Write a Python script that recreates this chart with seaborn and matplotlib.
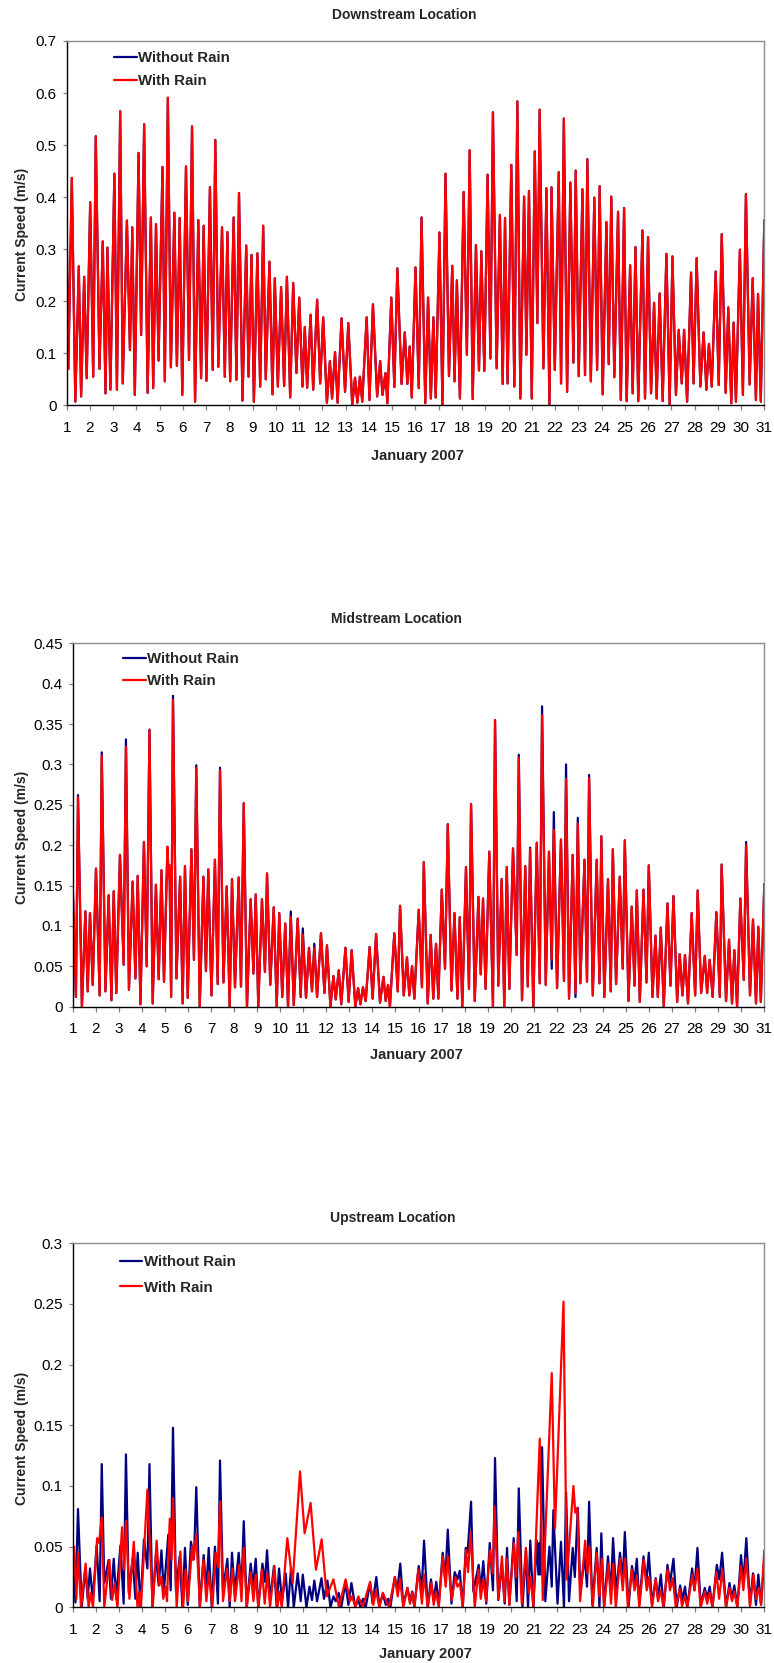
import numpy as np
import pandas as pd
import matplotlib
matplotlib.use("Agg")
import matplotlib.pyplot as plt
import seaborn as sns

# ---------------------------------------------------------------------------
# Modelled tidal current speed (m/s), January 2007.
# Each series is given by its successive turning points (day of month, speed).
# ---------------------------------------------------------------------------

# Downstream station: the two runs coincide here
down_days = [
    1.00, 1.07, 1.22, 1.37, 1.52, 1.62, 1.75, 1.86, 2.01, 2.14,
    2.25, 2.41, 2.55, 2.67, 2.75, 2.88, 3.05, 3.16, 3.30, 3.41,
    3.59, 3.72, 3.82, 3.93, 4.09, 4.20, 4.33, 4.48, 4.62, 4.72,
    4.84, 4.95, 5.12, 5.22, 5.35, 5.48, 5.63, 5.74, 5.86, 5.97,
    6.13, 6.26, 6.39, 6.52, 6.66, 6.78, 6.89, 7.01, 7.16, 7.28,
    7.39, 7.52, 7.68, 7.80, 7.91, 8.03, 8.18, 8.30, 8.41, 8.56,
    8.72, 8.82, 8.95, 9.05, 9.20, 9.32, 9.45, 9.56, 9.72, 9.85,
    9.95, 10.08, 10.22, 10.35, 10.47, 10.61, 10.74, 10.88, 11.00, 11.14,
    11.24, 11.34, 11.49, 11.60, 11.77, 11.90, 12.03, 12.19, 12.32, 12.41,
    12.54, 12.65, 12.82, 12.97, 13.11, 13.28, 13.40, 13.50, 13.61, 13.71,
    13.90, 14.02, 14.17, 14.35, 14.48, 14.58, 14.71, 14.79, 14.96, 15.09,
    15.22, 15.40, 15.54, 15.65, 15.75, 15.84, 16.00, 16.14, 16.26, 16.42,
    16.54, 16.66, 16.77, 16.87, 17.03, 17.16, 17.29, 17.44, 17.58, 17.68,
    17.78, 17.91, 18.07, 18.21, 18.33, 18.46, 18.60, 18.73, 18.83, 18.96,
    19.10, 19.22, 19.33, 19.49, 19.63, 19.75, 19.85, 19.96, 20.12, 20.25,
    20.38, 20.51, 20.67, 20.77, 20.88, 21.00, 21.13, 21.24, 21.34, 21.50,
    21.63, 21.76, 21.85, 21.99, 22.16, 22.26, 22.38, 22.52, 22.66, 22.79,
    22.89, 23.02, 23.18, 23.29, 23.39, 23.54, 23.69, 23.81, 23.92, 24.05,
    24.21, 24.31, 24.42, 24.55, 24.71, 24.83, 24.97, 25.08, 25.23, 25.34,
    25.46, 25.58, 25.76, 25.87, 26.00, 26.13, 26.26, 26.37, 26.50, 26.63,
    26.79, 26.93, 27.05, 27.20, 27.32, 27.45, 27.55, 27.68, 27.85, 27.96,
    28.09, 28.25, 28.39, 28.51, 28.62, 28.74, 28.91, 29.04, 29.17, 29.34,
    29.45, 29.58, 29.68, 29.78, 29.95, 30.08, 30.21, 30.37, 30.50, 30.64,
    30.73, 30.85, 31.00,
]
down_without = [
    0.34, 0.07, 0.437, 0.007, 0.267, 0.017, 0.247, 0.052, 0.39, 0.055,
    0.517, 0.07, 0.315, 0.023, 0.303, 0.03, 0.445, 0.03, 0.565, 0.042,
    0.355, 0.106, 0.342, 0.02, 0.485, 0.135, 0.54, 0.024, 0.361, 0.033,
    0.348, 0.086, 0.458, 0.046, 0.591, 0.073, 0.37, 0.076, 0.36, 0.02,
    0.459, 0.087, 0.536, 0.007, 0.356, 0.052, 0.345, 0.047, 0.419, 0.068,
    0.51, 0.074, 0.342, 0.055, 0.333, 0.046, 0.361, 0.049, 0.408, 0.009,
    0.307, 0.055, 0.289, 0.007, 0.292, 0.036, 0.345, 0.05, 0.276, 0.021,
    0.244, 0.036, 0.227, 0.037, 0.247, 0.015, 0.235, 0.062, 0.207, 0.036,
    0.15, 0.034, 0.174, 0.03, 0.203, 0.042, 0.169, 0.005, 0.085, 0.013,
    0.102, 0.005, 0.167, 0.026, 0.158, 0.001, 0.053, 0.005, 0.055, 0.007,
    0.169, 0.01, 0.194, 0.017, 0.085, 0.02, 0.062, 0.004, 0.207, 0.035,
    0.263, 0.041, 0.14, 0.041, 0.113, 0.015, 0.265, 0.033, 0.361, 0.004,
    0.207, 0.013, 0.169, 0.015, 0.332, 0.001, 0.445, 0.056, 0.268, 0.046,
    0.24, 0.013, 0.41, 0.097, 0.49, 0.012, 0.308, 0.067, 0.296, 0.066,
    0.443, 0.09, 0.563, 0.071, 0.366, 0.041, 0.36, 0.042, 0.462, 0.036,
    0.584, 0.013, 0.401, 0.097, 0.412, 0.013, 0.488, 0.158, 0.568, 0.071,
    0.417, 0.001, 0.419, 0.068, 0.448, 0.042, 0.551, 0.026, 0.428, 0.082,
    0.451, 0.056, 0.415, 0.058, 0.473, 0.046, 0.399, 0.068, 0.421, 0.021,
    0.352, 0.079, 0.401, 0.054, 0.372, 0.01, 0.379, 0.008, 0.269, 0.023,
    0.304, 0.008, 0.336, 0.013, 0.323, 0.023, 0.197, 0.013, 0.215, 0.008,
    0.291, 0.002, 0.286, 0.02, 0.145, 0.042, 0.145, 0.007, 0.255, 0.042,
    0.283, 0.036, 0.14, 0.03, 0.118, 0.036, 0.257, 0.039, 0.329, 0.024,
    0.188, 0.004, 0.159, 0.007, 0.299, 0.02, 0.406, 0.04, 0.244, 0.01,
    0.214, 0.007, 0.356,
]
down_with = list(down_without)

# Midstream station
mid_days = [
    1.00, 1.14, 1.23, 1.40, 1.55, 1.65, 1.75, 1.87, 2.01, 2.17,
    2.26, 2.42, 2.56, 2.68, 2.78, 2.89, 3.05, 3.21, 3.31, 3.44,
    3.60, 3.72, 3.82, 3.94, 4.09, 4.21, 4.33, 4.47, 4.61, 4.73,
    4.85, 4.96, 5.11, 5.16, 5.20, 5.27, 5.35, 5.50, 5.66, 5.77,
    5.87, 5.99, 6.15, 6.26, 6.36, 6.51, 6.67, 6.78, 6.88, 7.02,
    7.17, 7.29, 7.39, 7.54, 7.68, 7.81, 7.91, 8.04, 8.20, 8.30,
    8.42, 8.56, 8.72, 8.84, 8.94, 9.05, 9.21, 9.34, 9.43, 9.57,
    9.72, 9.85, 9.96, 10.09, 10.22, 10.34, 10.46, 10.59, 10.76, 10.89,
    10.98, 11.12, 11.25, 11.38, 11.48, 11.60, 11.77, 11.92, 12.03, 12.18,
    12.31, 12.41, 12.54, 12.65, 12.83, 12.97, 13.10, 13.26, 13.38, 13.48,
    13.59, 13.71, 13.88, 14.01, 14.16, 14.33, 14.48, 14.58, 14.68, 14.76,
    14.95, 15.10, 15.20, 15.36, 15.50, 15.60, 15.72, 15.82, 16.01, 16.15,
    16.23, 16.40, 16.53, 16.64, 16.76, 16.86, 17.01, 17.15, 17.27, 17.43,
    17.56, 17.69, 17.79, 17.90, 18.06, 18.19, 18.28, 18.44, 18.60, 18.70,
    18.80, 18.91, 19.07, 19.23, 19.32, 19.46, 19.61, 19.72, 19.83, 19.94,
    20.10, 20.26, 20.35, 20.49, 20.63, 20.74, 20.84, 20.98, 21.13, 21.26,
    21.36, 21.52, 21.66, 21.78, 21.87, 22.01, 22.18, 22.31, 22.40, 22.53,
    22.69, 22.81, 22.91, 23.02, 23.20, 23.31, 23.40, 23.56, 23.73, 23.85,
    23.93, 24.06, 24.22, 24.34, 24.43, 24.57, 24.73, 24.86, 24.95, 25.11,
    25.25, 25.37, 25.47, 25.60, 25.76, 25.89, 25.99, 26.15, 26.28, 26.38,
    26.51, 26.64, 26.80, 26.93, 27.06, 27.22, 27.33, 27.45, 27.56, 27.69,
    27.85, 28.00, 28.11, 28.26, 28.42, 28.52, 28.63, 28.76, 28.92, 29.07,
    29.15, 29.34, 29.47, 29.60, 29.70, 29.82, 29.96, 30.11, 30.21, 30.38,
    30.51, 30.64, 30.74, 30.85, 31.00,
]
mid_without = [
    0.15, 0.012, 0.262, 0.0, 0.118, 0.019, 0.116, 0.027, 0.171, 0.014,
    0.315, 0.019, 0.138, 0.008, 0.143, 0.017, 0.188, 0.052, 0.331, 0.021,
    0.155, 0.035, 0.162, 0.003, 0.204, 0.05, 0.343, 0.004, 0.151, 0.034,
    0.169, 0.031, 0.198, 0.16, 0.175, 0.012, 0.385, 0.035, 0.161, 0.004,
    0.174, 0.011, 0.195, 0.058, 0.299, 0.0, 0.161, 0.044, 0.17, 0.014,
    0.182, 0.028, 0.296, 0.03, 0.149, 0.0, 0.158, 0.024, 0.16, 0.025,
    0.252, 0.0, 0.133, 0.041, 0.139, 0.0, 0.133, 0.043, 0.165, 0.027,
    0.123, 0.0, 0.116, 0.012, 0.103, 0.0, 0.118, 0.002, 0.109, 0.012,
    0.097, 0.011, 0.073, 0.019, 0.078, 0.012, 0.091, 0.017, 0.076, 0.0,
    0.038, 0.009, 0.045, 0.003, 0.073, 0.006, 0.07, 0.0, 0.023, 0.003,
    0.024, 0.007, 0.074, 0.01, 0.09, 0.005, 0.037, 0.007, 0.027, 0.0,
    0.091, 0.019, 0.125, 0.014, 0.061, 0.014, 0.05, 0.01, 0.12, 0.024,
    0.179, 0.004, 0.089, 0.01, 0.078, 0.01, 0.145, 0.047, 0.226, 0.02,
    0.116, 0.01, 0.111, 0.0, 0.173, 0.022, 0.251, 0.007, 0.136, 0.04,
    0.134, 0.022, 0.192, 0.0, 0.355, 0.026, 0.158, 0.0, 0.173, 0.022,
    0.196, 0.064, 0.312, 0.008, 0.174, 0.025, 0.197, 0.0, 0.203, 0.029,
    0.372, 0.027, 0.192, 0.047, 0.241, 0.023, 0.207, 0.032, 0.3, 0.01,
    0.188, 0.012, 0.234, 0.029, 0.182, 0.031, 0.287, 0.014, 0.182, 0.029,
    0.211, 0.012, 0.158, 0.019, 0.195, 0.028, 0.161, 0.047, 0.206, 0.007,
    0.124, 0.026, 0.144, 0.006, 0.145, 0.03, 0.175, 0.012, 0.088, 0.012,
    0.098, 0.0, 0.128, 0.026, 0.137, 0.006, 0.065, 0.014, 0.064, 0.004,
    0.116, 0.014, 0.144, 0.017, 0.063, 0.017, 0.058, 0.012, 0.117, 0.012,
    0.176, 0.007, 0.083, 0.004, 0.07, 0.0, 0.134, 0.033, 0.204, 0.014,
    0.108, 0.004, 0.099, 0.006, 0.152,
]
# turning points where the rain run departs from the dry run
mid_with_changes = {
    1.23: 0.259, 2.26: 0.311, 3.31: 0.322, 5.35: 0.38, 6.36: 0.296,
    7.39: 0.293, 10.46: 0.111, 10.98: 0.089, 11.48: 0.073, 20.35: 0.308,
    20.84: 0.195, 21.36: 0.361, 21.78: 0.058, 21.87: 0.219, 22.40: 0.282,
    22.81: 0.017, 22.91: 0.227, 23.40: 0.283, 30.21: 0.2,
}
mid_with = [mid_with_changes.get(d, v) for d, v in zip(mid_days, mid_without)]

# Upstream station
up_days_without = [
    1.00, 1.12, 1.23, 1.39, 1.55, 1.65, 1.75, 1.87, 2.04, 2.17,
    2.26, 2.37, 2.56, 2.66, 2.78, 2.89, 3.07, 3.21, 3.31, 3.43,
    3.60, 3.72, 3.82, 3.94, 4.09, 4.24, 4.33, 4.46, 4.61, 4.73,
    4.85, 4.95, 5.15, 5.25, 5.35, 5.48, 5.64, 5.76, 5.87, 5.99,
    6.13, 6.26, 6.36, 6.51, 6.68, 6.80, 6.90, 7.03, 7.17, 7.30,
    7.39, 7.52, 7.71, 7.81, 7.91, 8.03, 8.20, 8.32, 8.42, 8.55,
    8.72, 8.82, 8.94, 9.05, 9.23, 9.34, 9.43, 9.56, 9.73, 9.85,
    9.95, 10.08, 10.24, 10.34, 10.47, 10.59, 10.76, 10.89, 10.98, 11.14,
    11.27, 11.38, 11.48, 11.60, 11.79, 11.90, 12.05, 12.18, 12.31, 12.41,
    12.54, 12.65, 12.83, 12.96, 13.09, 13.26, 13.38, 13.48, 13.59, 13.71,
    13.90, 14.01, 14.17, 14.30, 14.46, 14.58, 14.69, 14.78, 14.97, 15.08,
    15.21, 15.34, 15.52, 15.63, 15.73, 15.82, 16.01, 16.14, 16.24, 16.40,
    16.54, 16.66, 16.77, 16.88, 17.05, 17.16, 17.27, 17.43, 17.57, 17.69,
    17.79, 17.92, 18.05, 18.13, 18.28, 18.38, 18.61, 18.70, 18.81, 18.94,
    19.09, 19.23, 19.32, 19.46, 19.62, 19.74, 19.84, 19.94, 20.13, 20.26,
    20.35, 20.51, 20.66, 20.75, 20.85, 20.98, 21.13, 21.20, 21.24, 21.28,
    21.36, 21.50, 21.68, 21.78, 21.85, 22.03, 22.18, 22.31, 22.40, 22.53,
    22.69, 22.78, 22.91, 23.02, 23.21, 23.31, 23.40, 23.54, 23.73, 23.85,
    23.93, 24.05, 24.22, 24.34, 24.44, 24.57, 24.74, 24.86, 24.95, 25.11,
    25.26, 25.37, 25.47, 25.58, 25.76, 25.89, 25.99, 26.13, 26.29, 26.39,
    26.51, 26.64, 26.80, 26.91, 27.06, 27.20, 27.35, 27.45, 27.56, 27.66,
    27.87, 27.97, 28.10, 28.24, 28.42, 28.52, 28.63, 28.75, 28.94, 29.05,
    29.17, 29.34, 29.49, 29.59, 29.70, 29.83, 29.99, 30.09, 30.22, 30.38,
    30.51, 30.64, 30.74, 30.86, 31.00,
]
up_without = [
    0.035, 0.004, 0.081, 0.0, 0.032, 0.007, 0.032, 0.006, 0.051, 0.005,
    0.118, 0.02, 0.039, 0.007, 0.04, 0.007, 0.051, 0.003, 0.126, 0.012,
    0.04, 0.007, 0.045, 0.0, 0.056, 0.032, 0.118, 0.0, 0.043, 0.018,
    0.047, 0.012, 0.06, 0.014, 0.148, 0.013, 0.042, 0.0, 0.049, 0.002,
    0.054, 0.04, 0.099, 0.0, 0.043, 0.014, 0.049, 0.0, 0.05, 0.003,
    0.121, 0.014, 0.04, 0.0, 0.045, 0.012, 0.045, 0.014, 0.071, 0.0,
    0.036, 0.017, 0.04, 0.0, 0.036, 0.021, 0.047, 0.006, 0.034, 0.0,
    0.032, 0.005, 0.028, 0.0, 0.032, 0.0, 0.028, 0.005, 0.027, 0.0,
    0.017, 0.006, 0.022, 0.005, 0.024, 0.007, 0.022, 0.0, 0.009, 0.005,
    0.012, 0.0, 0.02, 0.002, 0.02, 0.0, 0.007, 0.0, 0.007, 0.0,
    0.02, 0.003, 0.025, 0.001, 0.011, 0.002, 0.007, 0.0, 0.025, 0.014,
    0.036, 0.002, 0.016, 0.005, 0.013, 0.0, 0.034, 0.014, 0.055, 0.0,
    0.023, 0.005, 0.021, 0.002, 0.045, 0.023, 0.064, 0.003, 0.029, 0.023,
    0.03, 0.0, 0.049, 0.045, 0.087, 0.013, 0.035, 0.014, 0.038, 0.003,
    0.053, 0.014, 0.123, 0.006, 0.035, 0.003, 0.049, 0.002, 0.057, 0.005,
    0.098, 0.0, 0.047, 0.0, 0.055, 0.0, 0.055, 0.027, 0.053, 0.027,
    0.132, 0.005, 0.05, 0.017, 0.08, 0.003, 0.054, 0.0, 0.095, 0.005,
    0.049, 0.025, 0.082, 0.012, 0.042, 0.017, 0.087, 0.002, 0.049, 0.0,
    0.061, 0.0, 0.042, 0.012, 0.057, 0.012, 0.045, 0.023, 0.062, 0.0,
    0.034, 0.021, 0.04, 0.003, 0.042, 0.021, 0.045, 0.002, 0.024, 0.007,
    0.027, 0.0, 0.035, 0.02, 0.04, 0.0, 0.018, 0.006, 0.017, 0.0,
    0.032, 0.014, 0.049, 0.002, 0.016, 0.007, 0.017, 0.0, 0.035, 0.023,
    0.045, 0.0, 0.02, 0.007, 0.018, 0.0, 0.043, 0.02, 0.057, 0.002,
    0.028, 0.002, 0.027, 0.002, 0.04,
]
up_days_with = [
    1.00, 1.06, 1.16, 1.23, 1.36, 1.56, 1.69, 1.78, 1.88, 2.06,
    2.14, 2.26, 2.37, 2.59, 2.71, 2.82, 2.94, 3.14, 3.23, 3.31,
    3.46, 3.65, 3.81, 3.89, 3.96, 4.24, 4.47, 4.64, 4.76, 4.85,
    4.93, 5.03, 5.09, 5.21, 5.29, 5.35, 5.51, 5.67, 5.79, 5.90,
    6.00, 6.18, 6.23, 6.36, 6.52, 6.67, 6.80, 6.90, 7.06, 7.20,
    7.30, 7.39, 7.52, 7.69, 7.81, 7.93, 8.04, 8.22, 8.32, 8.42,
    8.55, 8.72, 8.84, 8.94, 9.05, 9.21, 9.33, 9.44, 9.56, 9.75,
    9.88, 9.96, 10.07, 10.31, 10.54, 10.86, 11.06, 11.32, 11.55, 11.80,
    12.02, 12.31, 12.55, 12.84, 13.03, 13.12, 13.26, 13.39, 13.58, 13.90,
    14.04, 14.16, 14.30, 14.45, 14.72, 14.98, 15.10, 15.20, 15.34, 15.52,
    15.63, 15.73, 15.82, 15.99, 16.15, 16.24, 16.40, 16.56, 16.66, 16.76,
    16.88, 17.05, 17.18, 17.27, 17.44, 17.60, 17.69, 17.80, 17.92, 18.06,
    18.15, 18.26, 18.44, 18.60, 18.70, 18.81, 18.93, 19.10, 19.22, 19.30,
    19.46, 19.62, 19.72, 19.83, 19.94, 20.14, 20.23, 20.33, 20.48, 20.66,
    20.78, 20.87, 20.98, 21.26, 21.39, 21.78, 21.92, 22.29, 22.43, 22.72,
    22.80, 22.89, 23.01, 23.23, 23.33, 23.41, 23.56, 23.73, 23.85, 23.95,
    24.05, 24.24, 24.35, 24.45, 24.56, 24.74, 24.86, 24.96, 25.08, 25.25,
    25.37, 25.47, 25.58, 25.77, 25.90, 26.00, 26.13, 26.29, 26.39, 26.51,
    26.62, 26.80, 26.91, 27.03, 27.16, 27.33, 27.43, 27.56, 27.66, 27.88,
    27.97, 28.10, 28.24, 28.42, 28.52, 28.63, 28.75, 28.92, 29.04, 29.18,
    29.34, 29.49, 29.60, 29.70, 29.83, 29.99, 30.09, 30.22, 30.38, 30.53,
    30.64, 30.76, 30.86, 31.00,
]
up_with = [
    0.03, 0.05, 0.007, 0.045, 0.0, 0.036, 0.0, 0.012, 0.0, 0.057,
    0.053, 0.074, 0.0, 0.039, 0.006, 0.02, 0.0, 0.066, 0.031, 0.071,
    0.007, 0.054, 0.0, 0.013, 0.0, 0.097, 0.0, 0.055, 0.018, 0.025,
    0.007, 0.017, 0.005, 0.073, 0.039, 0.09, 0.0, 0.046, 0.0, 0.031,
    0.005, 0.05, 0.039, 0.06, 0.0, 0.039, 0.005, 0.029, 0.0, 0.045,
    0.033, 0.087, 0.005, 0.032, 0.005, 0.032, 0.005, 0.035, 0.005, 0.049,
    0.0, 0.029, 0.005, 0.027, 0.0, 0.031, 0.003, 0.028, 0.0, 0.034,
    0.0, 0.013, 0.0, 0.057, 0.02, 0.112, 0.061, 0.086, 0.031, 0.056,
    0.009, 0.023, 0.0, 0.023, 0.005, 0.009, 0.0, 0.009, 0.0, 0.021,
    0.002, 0.014, 0.0, 0.012, 0.0, 0.025, 0.009, 0.023, 0.0, 0.016,
    0.003, 0.012, 0.0, 0.031, 0.003, 0.027, 0.0, 0.02, 0.002, 0.013,
    0.0, 0.042, 0.017, 0.042, 0.006, 0.025, 0.017, 0.02, 0.0, 0.047,
    0.029, 0.062, 0.0, 0.031, 0.007, 0.023, 0.005, 0.047, 0.028, 0.083,
    0.007, 0.042, 0.005, 0.04, 0.002, 0.053, 0.025, 0.062, 0.003, 0.049,
    0.012, 0.025, 0.0, 0.139, 0.006, 0.193, 0.065, 0.252, 0.023, 0.1,
    0.078, 0.082, 0.005, 0.055, 0.028, 0.05, 0.0, 0.045, 0.009, 0.04,
    0.0, 0.036, 0.003, 0.036, 0.0, 0.04, 0.014, 0.04, 0.0, 0.031,
    0.014, 0.026, 0.0, 0.039, 0.014, 0.025, 0.0, 0.023, 0.005, 0.014,
    0.0, 0.031, 0.014, 0.024, 0.0, 0.015, 0.001, 0.009, 0.0, 0.027,
    0.014, 0.032, 0.0, 0.013, 0.003, 0.012, 0.0, 0.029, 0.007, 0.031,
    0.0, 0.016, 0.005, 0.013, 0.0, 0.034, 0.014, 0.04, 0.001, 0.027,
    0.007, 0.016, 0.002, 0.047,
]

day_ticks = list(range(1, 32))
down_yticks = [0, 0.1, 0.2, 0.3, 0.4, 0.5, 0.6, 0.7]
mid_yticks = [0, 0.05, 0.1, 0.15, 0.2, 0.25, 0.3, 0.35, 0.4, 0.45]
up_yticks = [0, 0.05, 0.1, 0.15, 0.2, 0.25, 0.3]

run_labels = ["Without Rain", "With Rain"]
run_colors = {"Without Rain": "#000080", "With Rain": "#FF0000"}

# ---------------------------------------------------------------------------
sns.set_style("white")
plt.rcParams["font.family"] = ["Liberation Sans", "DejaVu Sans"]

W, H = 774, 1663
fig = plt.figure(figsize=(W / 100, H / 100), dpi=100)


def px_axes(left, top, right, bottom):
    return fig.add_axes([left / W, 1 - bottom / H, (right - left) / W, (bottom - top) / H])


def draw_panel(ax, series, yticks, title, title_xy, xlabel_xy, ylabel_xy,
               legend_anchor, legend_spacing):
    frames = [pd.DataFrame({"day": d, "speed": v, "run": r}) for r, d, v in series]
    data = pd.concat(frames, ignore_index=True)
    sns.lineplot(data=data, x="day", y="speed", hue="run", hue_order=run_labels,
                 palette=run_colors, estimator=None, sort=False,
                 linewidth=1.6, legend=False, ax=ax)
    ax.set_xlim(1, 31)
    ax.set_ylim(yticks[0], yticks[-1])
    ax.set_xticks(day_ticks)
    ax.set_yticks(yticks)
    ax.set_yticklabels([f"{round(t, 2):g}" for t in yticks])
    ax.set_xlabel("")
    ax.set_ylabel("")
    ax.tick_params(axis="x", direction="out", length=3.6, width=0.9, pad=7.5,
                   labelsize=11, color="#808080", labelcolor="black", bottom=True)
    ax.tick_params(axis="y", direction="out", length=2.8, width=0.9, pad=4.5,
                   labelsize=11, color="#808080", labelcolor="black", left=True)
    for side in ("left", "bottom"):
        ax.spines[side].set_color("black")
        ax.spines[side].set_linewidth(1.0)
    for side in ("top", "right"):
        ax.spines[side].set_color("#8c8c8c")
        ax.spines[side].set_linewidth(1.0)
    ax.legend(ax.get_lines()[:2], run_labels, loc="upper left",
              bbox_to_anchor=legend_anchor, frameon=False, borderpad=0,
              borderaxespad=0, handlelength=1.5, handletextpad=0.1,
              labelspacing=legend_spacing,
              prop={"weight": "bold", "size": 10.8})

    fig.text(title_xy[0] / W, 1 - title_xy[1] / H, title, ha="center", va="center",
             fontsize=10, fontweight="bold")
    fig.text(xlabel_xy[0] / W, 1 - xlabel_xy[1] / H, "January 2007", ha="center",
             va="center", fontsize=10.5, fontweight="bold")
    fig.text(ylabel_xy[0] / W, 1 - ylabel_xy[1] / H, "Current Speed (m/s)",
             ha="center", va="center", rotation=90, fontsize=10, fontweight="bold")


ax_down = px_axes(66.7, 41, 764.3, 405.3)
draw_panel(ax_down,
           [("Without Rain", down_days, down_without), ("With Rain", down_days, down_with)],
           down_yticks, "Downstream Location", (404, 15), (417, 456), (22, 234),
           (0.068, 0.972), 0.58)

ax_mid = px_axes(72.7, 643.3, 764.3, 1006.7)
draw_panel(ax_mid,
           [("Without Rain", mid_days, mid_without), ("With Rain", mid_days, mid_with)],
           mid_yticks, "Midstream Location", (396, 619), (416, 1055), (22, 837),
           (0.073, 0.976), 0.52)

ax_up = px_axes(72.7, 1243.3, 764.3, 1607.3)
draw_panel(ax_up,
           [("Without Rain", up_days_without, up_without), ("With Rain", up_days_with, up_with)],
           up_yticks, "Upstream Location", (393, 1218), (425, 1654), (22, 1438),
           (0.068, 0.968), 0.78)

fig.savefig("out.png", dpi=100)
